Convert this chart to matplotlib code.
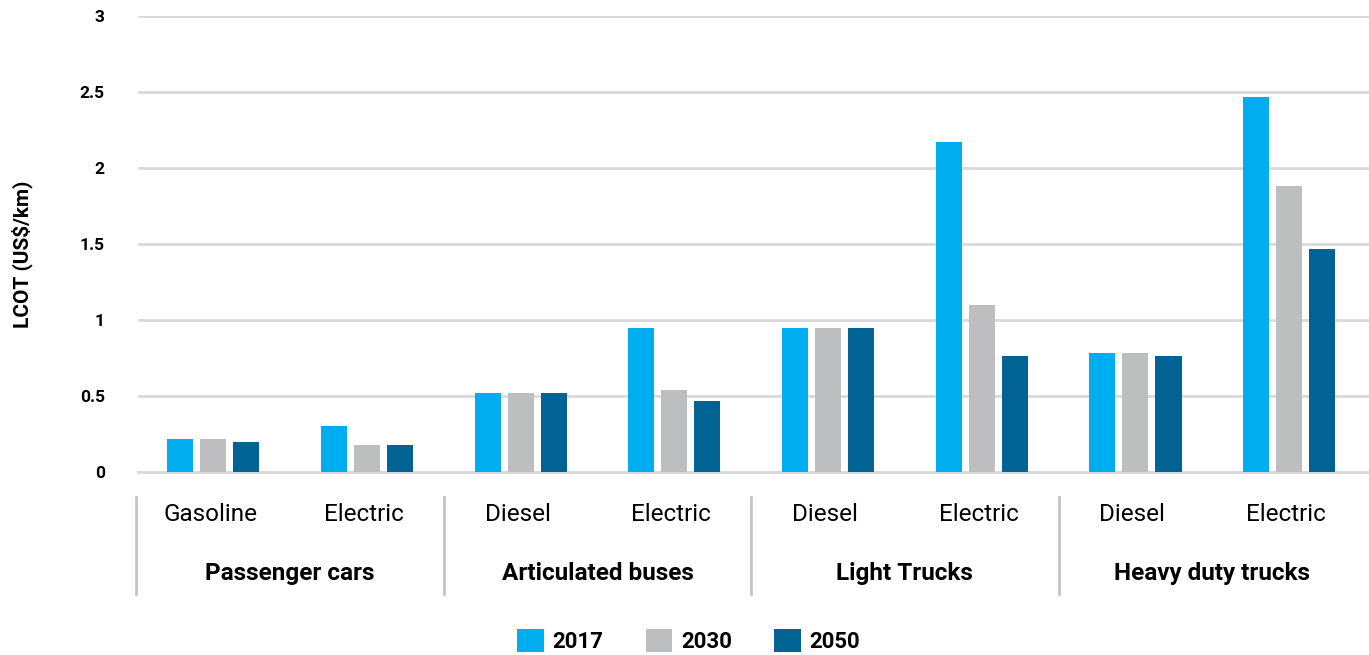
import matplotlib.pyplot as plt
import matplotlib.transforms as mtransforms
from matplotlib.lines import Line2D
import numpy as np

plt.rcParams['font.family'] = ['Roboto', 'DejaVu Sans']

# Data
sub_labels = ['Gasoline', 'Electric', 'Diesel', 'Electric',
              'Diesel', 'Electric', 'Diesel', 'Electric']
group_labels = ['Passenger cars', 'Articulated buses', 'Light Trucks', 'Heavy duty trucks']
years = ['2017', '2030', '2050']
v2017 = [0.22, 0.30, 0.52, 0.95, 0.95, 2.17, 0.78, 2.47]
v2030 = [0.22, 0.18, 0.52, 0.54, 0.95, 1.10, 0.78, 1.88]
v2050 = [0.20, 0.18, 0.52, 0.47, 0.95, 0.76, 0.76, 1.47]
colors = ['#00AEEF', '#BDBEC0', '#006394']

fig = plt.figure(figsize=(13.69, 6.55), dpi=100)
ax = fig.add_axes([138 / 1369, 1 - 472 / 655, 1 - 138 / 1369, (472 - 16) / 655])

x = np.arange(len(sub_labels))
offset = 0.215
width = 0.17
for i, (vals, yr) in enumerate(zip([v2017, v2030, v2050], years)):
    ax.bar(x + (i - 1) * offset, vals, width, color=colors[i], label=yr, zorder=3)

ax.set_xlim(-0.49, 7.52)
ax.set_ylim(0, 3)
ax.set_yticks([0, 0.5, 1, 1.5, 2, 2.5, 3])
ax.set_yticklabels(['0', '0.5', '1', '1.5', '2', '2.5', '3'])
ax.tick_params(axis='y', length=0, pad=24, labelsize=12.5)
for lab in ax.get_yticklabels():
    lab.set_fontweight('bold')
ax.set_xticks([])
ax.grid(axis='y', color='#D9D9DE', linewidth=2, zorder=0)
for s in ['top', 'right', 'left']:
    ax.spines[s].set_visible(False)
ax.spines['bottom'].set_color('#D9D9DE')
ax.spines['bottom'].set_linewidth(2)

# Category labels below the axis
trans = mtransforms.blended_transform_factory(ax.transData, fig.transFigure)
for xi, lab in zip(x, sub_labels):
    ax.text(xi - 0.02, 0.215, lab, transform=trans, ha='center', va='center', fontsize=17.5)
for g, lab in enumerate(group_labels):
    ax.text(2 * g + 0.5, 0.124, lab, transform=trans, ha='center', va='center',
            fontsize=17.5, fontweight='bold')
for sep in [-0.5, 1.5, 3.5, 5.5]:
    ax.add_line(Line2D([sep, sep], [0.093, 0.241], transform=trans,
                       color='#C4C4C4', linewidth=2, clip_on=False))

fig.text(0.016, 0.612, 'LCOT (US$/km)', rotation=90, ha='center', va='center',
         fontsize=15, fontweight='bold')

leg = fig.legend(loc='center', bbox_to_anchor=(0.503, 0.021), ncol=3, frameon=False,
                 handlelength=1.2, handleheight=1.2, handletextpad=0.4,
                 columnspacing=1.9, prop={'size': 16, 'weight': 'bold'})

fig.savefig('out.png', dpi=100)
